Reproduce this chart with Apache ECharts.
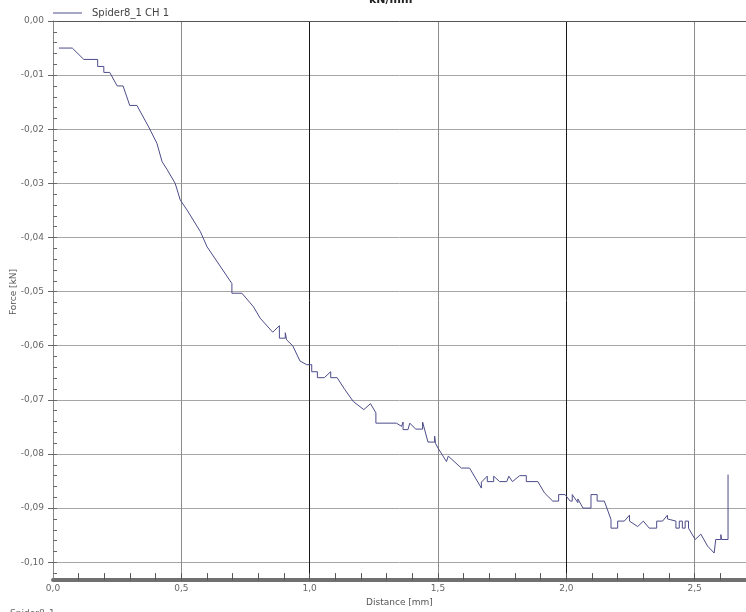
<!DOCTYPE html>
<html>
<head>
<meta charset="utf-8">
<title>kN/mm</title>
<script src="https://cdn.jsdelivr.net/npm/echarts@6/dist/echarts.min.js"></script>
<style>
  html, body { margin: 0; padding: 0; background: #ffffff; }
  #chart { width: 746px; height: 612px; }
</style>
</head>
<body>
<div id="chart"></div>
<script>
// Measured channel: distance [mm] vs force [kN]
const seriesName = 'Spider8_1 CH 1';

const distance = [
  0.023, 0.075, 0.120, 0.174, 0.174, 0.198, 0.198, 0.221, 0.250, 0.273,
  0.299, 0.327, 0.373, 0.405, 0.425, 0.444, 0.476, 0.496, 0.522, 0.574,
  0.600, 0.697, 0.697, 0.736, 0.781, 0.807, 0.856, 0.882, 0.882, 0.905,
  0.905, 0.910, 0.934, 0.962, 0.988, 1.008, 1.008, 1.030, 1.030, 1.057,
  1.082, 1.082, 1.107, 1.137, 1.170, 1.211, 1.237, 1.258, 1.258, 1.338,
  1.358, 1.364, 1.364, 1.383, 1.390, 1.413, 1.440, 1.440, 1.461, 1.487,
  1.487, 1.490, 1.500, 1.533, 1.540, 1.591, 1.623, 1.669, 1.669, 1.692,
  1.692, 1.717, 1.717, 1.740, 1.768, 1.776, 1.790, 1.818, 1.844, 1.844,
  1.889, 1.915, 1.947, 1.970, 1.970, 1.995, 2.015, 2.023, 2.023, 2.045,
  2.045, 2.065, 2.096, 2.096, 2.120, 2.120, 2.148, 2.174, 2.174, 2.200,
  2.200, 2.226, 2.246, 2.246, 2.278, 2.300, 2.323, 2.352, 2.352, 2.375,
  2.394, 2.394, 2.427, 2.427, 2.440, 2.440, 2.452, 2.452, 2.463, 2.463,
  2.476, 2.476, 2.502, 2.524, 2.550, 2.576, 2.582, 2.602, 2.602, 2.605,
  2.630, 2.630
];

const force = [
  -0.0050, -0.0050, -0.0071, -0.0071, -0.0084, -0.0084, -0.0095, -0.0095, -0.0120, -0.0120,
  -0.0156, -0.0156, -0.0196, -0.0226, -0.0260, -0.0274, -0.0300, -0.0331, -0.0349, -0.0389,
  -0.0417, -0.0485, -0.0503, -0.0503, -0.0528, -0.0549, -0.0575, -0.0563, -0.0586, -0.0586,
  -0.0576, -0.0589, -0.0600, -0.0628, -0.0635, -0.0635, -0.0648, -0.0648, -0.0659, -0.0659,
  -0.0648, -0.0659, -0.0659, -0.0681, -0.0703, -0.0718, -0.0707, -0.0724, -0.0743, -0.0743,
  -0.0749, -0.0741, -0.0755, -0.0755, -0.0743, -0.0754, -0.0754, -0.0741, -0.0778, -0.0778,
  -0.0767, -0.0780, -0.0789, -0.0814, -0.0804, -0.0826, -0.0826, -0.0863, -0.0852, -0.0841,
  -0.0851, -0.0851, -0.0841, -0.0851, -0.0851, -0.0841, -0.0851, -0.0840, -0.0840, -0.0851,
  -0.0851, -0.0872, -0.0887, -0.0887, -0.0875, -0.0875, -0.0887, -0.0887, -0.0875, -0.0890,
  -0.0883, -0.0900, -0.0900, -0.0875, -0.0875, -0.0887, -0.0887, -0.0921, -0.0937, -0.0937,
  -0.0924, -0.0924, -0.0913, -0.0924, -0.0934, -0.0924, -0.0937, -0.0937, -0.0924, -0.0924,
  -0.0913, -0.0920, -0.0924, -0.0937, -0.0937, -0.0924, -0.0924, -0.0937, -0.0937, -0.0924,
  -0.0924, -0.0937, -0.0958, -0.0948, -0.0970, -0.0983, -0.0958, -0.0958, -0.0949, -0.0958,
  -0.0958, -0.0838
];

// Axis ranges and tick positions
const xMin = 0, xMax = 2.7;
const yMin = -0.1033, yMax = 0;
const xMinorTicks = [0.1, 0.2, 0.3, 0.4, 0.5, 0.6, 0.7, 0.8, 0.9, 1.0, 1.1, 1.2, 1.3,
                     1.4, 1.5, 1.6, 1.7, 1.8, 1.9, 2.0, 2.1, 2.2, 2.3, 2.4, 2.5, 2.6];
const yMajorTicks = [0, -0.01, -0.02, -0.03, -0.04, -0.05, -0.06, -0.07, -0.08, -0.09, -0.10];
const yMinorTicks = [];
for (let k = 0; k <= 51; k++) yMinorTicks.push(-k * 0.002);

const points = distance.map((d, i) => [d, force[i]]);

const fmtComma = (v, digits) => v.toFixed(digits).replace('.', ',');
const isMultiple = (v, step) => Math.abs(v / step - Math.round(v / step)) < 1e-6;

const labelFont = { fontFamily: 'DejaVu Sans', fontSize: 9, color: '#666' };

const chart = echarts.init(document.getElementById('chart'), null, { renderer: 'canvas' });
chart.setOption({
  animation: false,
  backgroundColor: '#ffffff',
  title: {
    text: 'kN/mm',
    left: 369, top: -5, padding: 0,
    textStyle: { fontFamily: 'DejaVu Sans', fontSize: 11, fontWeight: 'bold', color: '#222' }
  },
  legend: {
    data: [seriesName],
    left: 53, top: 8, padding: 0,
    icon: 'rect', itemWidth: 29, itemHeight: 1,
    textStyle: { fontFamily: 'DejaVu Sans', fontSize: 10, color: '#444', padding: [0, 0, 0, 5] }
  },
  grid: { left: 53, right: 0, top: 21, height: 560, containLabel: false },
  xAxis: [
    {
      type: 'value', min: xMin, max: xMax, interval: 0.5,
      position: 'bottom',
      name: 'Distance [mm]', nameLocation: 'middle', nameGap: 15,
      nameTextStyle: { fontFamily: 'DejaVu Sans', fontSize: 9, color: '#555' },
      axisLine: { show: true, onZero: false, lineStyle: { color: '#707070', width: 4 } },
      axisTick: { show: false },
      axisLabel: Object.assign({
        margin: 4,
        showMaxLabel: false,
        formatter: v => isMultiple(v, 0.5) ? fmtComma(v, 1) : ''
      }, labelFont),
      splitLine: { show: true, lineStyle: { color: ['#1a1a1a', '#8c8c8c'], width: 1 } }
    },
    {
      type: 'value', min: xMin, max: xMax,
      position: 'bottom',
      axisLine: { show: false, onZero: false },
      axisLabel: { show: false },
      splitLine: { show: false },
      axisTick: { show: true, inside: true, length: 7, customValues: xMinorTicks,
                  lineStyle: { color: '#555', width: 1 } }
    },
    {
      type: 'value', min: xMin, max: xMax,
      position: 'top',
      axisLine: { show: true, onZero: false, lineStyle: { color: '#555', width: 1 } },
      axisTick: { show: false },
      axisLabel: { show: false },
      splitLine: { show: false }
    }
  ],
  yAxis: [
    {
      type: 'value', min: yMin, max: yMax, splitNumber: 10,
      position: 'left',
      axisLine: { show: true, onZero: false, lineStyle: { color: '#888', width: 1 } },
      axisTick: { show: true, inside: false, length: 5, customValues: yMajorTicks,
                  lineStyle: { color: '#666' } },
      axisLabel: Object.assign({
        margin: 9,
        customValues: yMajorTicks,
        formatter: v => isMultiple(v, 0.01) ? fmtComma(v, 2) : ''
      }, labelFont),
      splitLine: { show: true, lineStyle: { color: '#a6a6a6', width: 1 } }
    },
    {
      type: 'value', min: yMin, max: yMax,
      position: 'left',
      axisLine: { show: false, onZero: false },
      axisLabel: { show: false },
      splitLine: { show: false },
      axisTick: { show: true, inside: true, length: 4, customValues: yMinorTicks,
                  lineStyle: { color: '#666', width: 1 } }
    }
  ],
  graphic: [
    {
      type: 'text', x: 14, y: 292, rotation: Math.PI / 2,
      style: { text: 'Force [kN]', fontFamily: 'DejaVu Sans', fontSize: 9, fill: '#555',
               textAlign: 'center', textVerticalAlign: 'middle' }
    },
    {
      type: 'text', left: 10, top: 609,
      style: { text: 'Spider8_1', fontFamily: 'DejaVu Sans', fontSize: 9, fill: '#666' }
    }
  ],
  series: [
    {
      name: seriesName,
      type: 'line',
      xAxisIndex: 0, yAxisIndex: 0,
      data: points,
      showSymbol: false,
      symbol: 'none',
      lineStyle: { color: '#4c4c8a', width: 1 },
      itemStyle: { color: '#4c4c8a' },
      z: 5
    }
  ]
});
</script>
</body>
</html>
